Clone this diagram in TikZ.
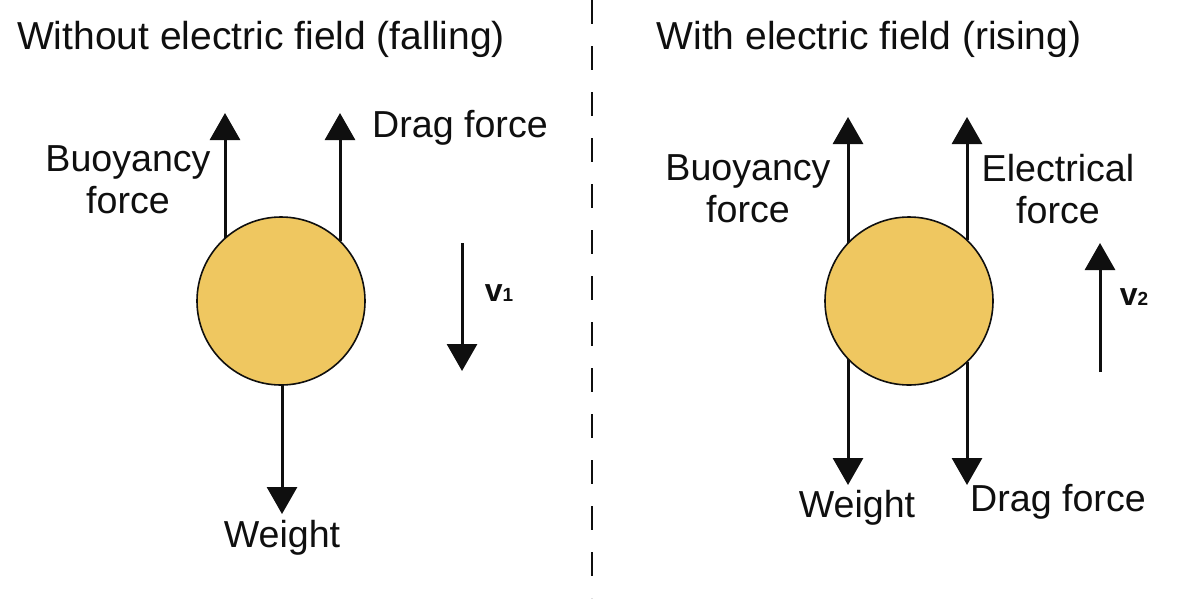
\documentclass[tikz,border=0pt]{standalone}
\usepackage{fontspec}
\setmainfont{Liberation Sans}
\usetikzlibrary{arrows.meta}
\definecolor{dropfill}{RGB}{239,199,96}
\definecolor{inkc}{RGB}{15,15,15}
\newcommand{\vsub}[1]{{\fontsize{19}{20}\selectfont #1}}
\begin{document}
\begin{tikzpicture}[x=1pt,y=-1pt,
  lbl/.style={font=\fontsize{37.6}{42}\selectfont, inner sep=0pt, align=center, text=inkc},
  ttl/.style={font=\fontsize{39}{42}\selectfont, inner sep=0pt, text=inkc},
  vlbl/.style={font=\fontsize{32}{34}\selectfont\bfseries, inner sep=0pt, text=inkc},
  force/.style={draw=inkc, line width=3pt, -{Triangle[width=30pt,length=27pt]}},
  drop/.style={circle, draw=inkc, line width=1.6pt, fill=dropfill, minimum size=168pt, inner sep=0pt}
]
\useasboundingbox (0,0) rectangle (1194,606);
\fill[white] (0,0) rectangle (1194,606);

% divider
\coordinate (dtop) at (592,0);
\coordinate (dbot) at (592,598);
\draw[inkc, line width=2.5pt, dash pattern=on 24pt off 22pt] (dtop) -- (dbot);

% titles
\node[ttl] (titleL) at (261,39) {Without electric field (falling)};
\node[ttl] (titleR) at (869,39) {With electric field (rising)};

% ---------- left ----------
\coordinate (L1s) at (225,238);
\coordinate (L1e) at (225,113);
\coordinate (L2s) at (340,241);
\coordinate (L2e) at (340,113);
\coordinate (L3s) at (282,385);
\coordinate (L3e) at (282,514);
\draw[force] (L1s) -- (L1e);
\draw[force] (L2s) -- (L2e);
\draw[force] (L3s) -- (L3e);
\node[drop] (dropL) at (281,301) {};

\node[lbl] (buoyL) at (128,180) {Buoyancy\\force};
\node[lbl] (dragL) at (460,128) {Drag force};
\node[lbl] (weightL) at (282,538) {Weight};

\coordinate (v1s) at (462,243);
\coordinate (v1e) at (462,371);
\draw[force] (v1s) -- (v1e);
\node[vlbl] (v1) at (499,293) {v\vsub{1}};

% ---------- right ----------
\coordinate (R1s) at (848,243);
\coordinate (R1e) at (848,117);
\coordinate (R2s) at (967,240);
\coordinate (R2e) at (967,117);
\coordinate (R3s) at (848,359);
\coordinate (R3e) at (848,485);
\coordinate (R4s) at (967,362);
\coordinate (R4e) at (967,485);
\draw[force] (R1s) -- (R1e);
\draw[force] (R2s) -- (R2e);
\draw[force] (R3s) -- (R3e);
\draw[force] (R4s) -- (R4e);
\node[drop] (dropR) at (909,301) {};

\node[lbl] (buoyR) at (748,189) {Buoyancy\\force};
\node[lbl] (elecR) at (1058,189) {Electrical\\force};
\node[lbl] (weightR) at (857,508) {Weight};
\node[lbl] (dragR) at (1058,502) {Drag force};

\coordinate (v2s) at (1100,372);
\coordinate (v2e) at (1100,243);
\draw[force] (v2s) -- (v2e);
\node[vlbl] (v2) at (1134,297) {v\vsub{2}};
\end{tikzpicture}
\end{document}
